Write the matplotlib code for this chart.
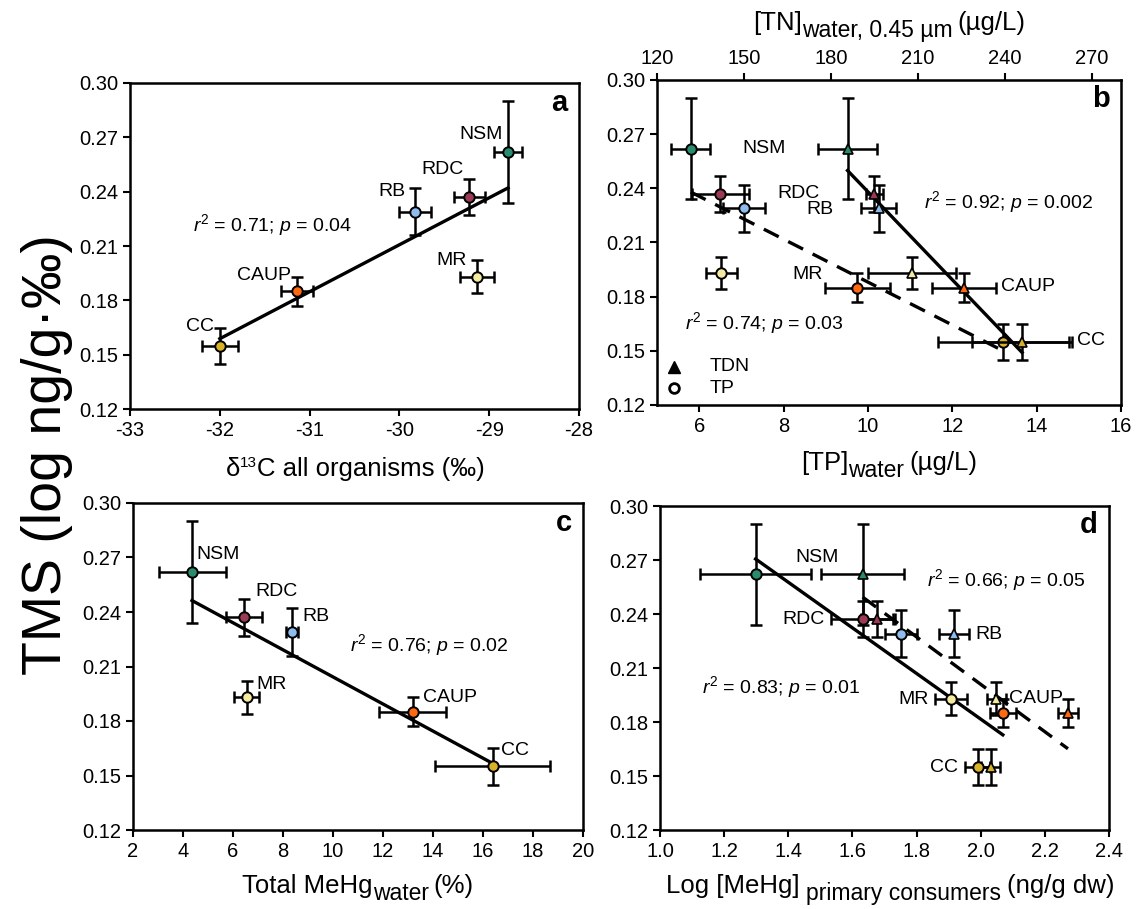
import matplotlib
matplotlib.use("Agg")
import matplotlib.pyplot as plt
from matplotlib.transforms import IdentityTransform
import numpy as np

plt.rcParams['font.family'] = ['Liberation Sans', 'DejaVu Sans']
plt.rcParams['mathtext.fontset'] = 'custom'
plt.rcParams['mathtext.rm'] = 'Liberation Sans'
plt.rcParams['mathtext.it'] = 'Liberation Sans:italic'
plt.rcParams['mathtext.bf'] = 'Liberation Sans:bold'
plt.rcParams['axes.unicode_minus'] = False

# sites, in the same order everywhere
sites = ['NSM', 'RDC', 'RB', 'MR', 'CAUP', 'CC']
colors = ['#2a8c6e', '#9b3a55', '#8fbcef', '#f5eba0', '#ff6a10', '#d9b02a']

# TMS (y) shared by all panels
tms = [0.262, 0.237, 0.229, 0.193, 0.185, 0.155]
tms_err = [0.028, 0.010, 0.013, 0.009, 0.008, 0.010]

# panel a: d13C
d13c = [-28.79, -29.22, -29.83, -29.14, -31.14, -32.0]
d13c_err = [0.16, 0.17, 0.18, 0.19, 0.18, 0.20]

# panel b: TP (bottom axis) and TDN (top axis)
tp = [5.80, 6.50, 7.06, 6.52, 9.75, 13.21]
tp_err = [0.46, 0.68, 0.49, 0.37, 0.77, 1.56]
tdn = [185.7, 194.9, 196.4, 207.8, 225.8, 245.9]
tdn_err = [10.3, 3.0, 5.9, 15.2, 11.0, 17.2]

# panel c: % MeHg in water
mehg_pct = [4.36, 6.43, 8.35, 6.55, 13.18, 16.38]
mehg_pct_err = [1.34, 0.72, 0.25, 0.50, 1.34, 2.30]

# panel d: log MeHg primary consumers (circles and triangles)
logc = [1.298, 1.632, 1.751, 1.908, 2.069, 1.990]
logc_err = [0.172, 0.10, 0.05, 0.05, 0.04, 0.04]
logt = [1.632, 1.678, 1.917, 2.049, 2.272, 2.031]
logt_err = [0.13, 0.05, 0.048, 0.03, 0.03, 0.03]

yticks = [0.12, 0.15, 0.18, 0.21, 0.24, 0.27, 0.30]

TICK = 14.5
LAB = 14

fig = plt.figure(figsize=(11.36, 9.09), dpi=100)
W, H = 1136, 909


def box(l, r, t, b):
    return [l / W, 1 - b / H, (r - l) / W, (b - t) / H]


ax_a = fig.add_axes(box(130, 579, 83, 409))
ax_b = fig.add_axes(box(657, 1121, 80, 405))
ax_c = fig.add_axes(box(133, 583, 503, 830))
ax_d = fig.add_axes(box(660, 1109, 506, 830))

ebkw = dict(fmt='none', ecolor='black', elinewidth=1.8, capsize=4, capthick=1.8, zorder=3)


def style(ax):
    ax.set_ylim(0.12, 0.30)
    ax.set_yticks(yticks)
    ax.set_yticklabels(['%.2f' % v for v in yticks])
    ax.tick_params(direction='out', length=5, width=1.5, labelsize=TICK)
    for s in ax.spines.values():
        s.set_linewidth(1.8)


def points(ax, x, xe, marker, ms):
    ax.errorbar(x, tms, xerr=xe, yerr=tms_err, **ebkw)
    for xi, yi, c in zip(x, tms, colors):
        ax.plot(xi, yi, marker=marker, ms=ms, mfc=c, mec='black', mew=1.4, zorder=4)


def fitline(ax, x, ls='-'):
    k, b0 = np.polyfit(x, tms, 1)
    xs = np.array([min(x), max(x)])
    if ls == '--':
        ax.plot(xs, k * xs + b0, color='black', lw=2.4, ls='--', dashes=(5, 3.2), zorder=2)
    else:
        ax.plot(xs, k * xs + b0, color='black', lw=2.4, zorder=2)


def labels(ax, pos, ha):
    for s, (x, y), h in zip(sites, pos, ha):
        ax.text(x, y, s, fontsize=LAB, ha=h, va='center')


def letter(ax, s):
    ax.text(0.975, 0.94, s, transform=ax.transAxes, fontsize=21, fontweight='bold',
            ha='right', va='center')


def rich_label(cx, base, parts):
    # parts: (text, size, raise_px, gap_px); base is baseline in px from the top
    r = fig.canvas.get_renderer()
    objs, widths = [], []
    for s, size, dy, gap in parts:
        t = fig.text(0, 0, s, fontsize=size, ha='left', va='baseline',
                     transform=IdentityTransform())
        objs.append(t)
        widths.append(t.get_window_extent(r).width + gap)
    x = cx - sum(widths) / 2
    for t, w, (s, size, dy, gap) in zip(objs, widths, parts):
        t.set_position((x, H - base + dy))
        x += w


# ---- a
style(ax_a)
ax_a.set_xlim(-33, -28)
ax_a.set_xticks(range(-33, -27))
fitline(ax_a, d13c)
points(ax_a, d13c, d13c_err, 'o', 7.5)
labels(ax_a, [(-28.85, 0.2714), (-29.29, 0.252), (-29.93, 0.240), (-29.25, 0.2022),
              (-31.21, 0.1938), (-32.07, 0.1658)], ['right'] * 6)
ax_a.text(-32.3, 0.2215, '$r^2$ = 0.71; $p$ = 0.04', fontsize=LAB, va='center')
letter(ax_a, 'a')

# ---- b
style(ax_b)
ax_b.set_xlim(5, 16)
ax_b.set_xticks([6, 8, 10, 12, 14, 16])
ax_t = ax_b.twiny()
ax_t.set_xlim(120, 280)
ax_t.set_xticks([120, 150, 180, 210, 240, 270])
ax_t.tick_params(direction='out', length=5, width=1.5, labelsize=TICK)
ax_t.set_ylim(0.12, 0.30)
fitline(ax_b, tp, '--')
fitline(ax_t, tdn)
points(ax_b, tp, tp_err, 'o', 7.5)
ax_t.errorbar(tdn, tms, xerr=tdn_err, yerr=tms_err, **ebkw)
for xi, yi, c in zip(tdn, tms, colors):
    ax_t.plot(xi, yi, marker='^', ms=7.5, mfc=c, mec='black', mew=1.2, zorder=4)
labels(ax_b, [(7.53, 0.262), (8.35, 0.237), (8.87, 0.2285), (8.56, 0.1925),
              (13.8, 0.1855), (15.3, 0.1556)], ['center'] * 6)
ax_b.text(11.34, 0.2326, '$r^2$ = 0.92; $p$ = 0.002', fontsize=LAB, va='center')
ax_b.text(5.66, 0.1656, '$r^2$ = 0.74; $p$ = 0.03', fontsize=LAB, va='center')
ax_b.plot(5.4, 0.1412, marker='^', ms=8, color='black', ls='none')
ax_b.plot(5.4, 0.1292, marker='o', ms=7, mfc='white', mec='black', mew=2, ls='none')
ax_b.text(6.24, 0.1412, 'TDN', fontsize=LAB, va='center')
ax_b.text(6.24, 0.1292, 'TP', fontsize=LAB, va='center')
letter(ax_b, 'b')

# ---- c
style(ax_c)
ax_c.set_xlim(2, 20)
ax_c.set_xticks(range(2, 21, 2))
fitline(ax_c, mehg_pct)
points(ax_c, mehg_pct, mehg_pct_err, 'o', 7.5)
labels(ax_c, [(4.53, 0.2718), (6.89, 0.2514), (8.79, 0.2376), (6.93, 0.2003),
              (13.58, 0.1927), (16.71, 0.1638)], ['left'] * 6)
ax_c.text(10.66, 0.2219, '$r^2$ = 0.76; $p$ = 0.02', fontsize=LAB, va='center')
letter(ax_c, 'c')

# ---- d
style(ax_d)
ax_d.set_xlim(1.0, 2.4)
dt = np.arange(1.0, 2.41, 0.2)
ax_d.set_xticks(dt)
ax_d.set_xticklabels(['%.1f' % v for v in dt])
fitline(ax_d, logc)
fitline(ax_d, logt, '--')
ax_d.errorbar(logt, tms, xerr=logt_err, yerr=tms_err, **ebkw)
for xi, yi, c in zip(logt, tms, colors):
    ax_d.plot(xi, yi, marker='^', ms=7.5, mfc=c, mec='black', mew=1.2, zorder=4)
points(ax_d, logc, logc_err, 'o', 7.5)
labels(ax_d, [(1.49, 0.2714), (1.512, 0.2367), (1.982, 0.2284), (1.838, 0.1924),
              (2.087, 0.1933), (1.93, 0.1545)],
       ['center', 'right', 'left', 'right', 'left', 'right'])
ax_d.text(1.832, 0.2588, '$r^2$ = 0.66; $p$ = 0.05', fontsize=LAB, va='center')
ax_d.text(1.132, 0.1994, '$r^2$ = 0.83; $p$ = 0.01', fontsize=LAB, va='center')
letter(ax_d, 'd')

# axis titles with near full-size sub/superscripts
rich_label(355, 476, [('δ', 18.5, 0, 0), ('13', 11, 9, 0), ('C all organisms (‰)', 18.5, 0, 0)])
rich_label(889, 470, [('[TP]', 18.5, 0, 0), ('water', 16.5, -7, 5), ('(µg/L)', 18.5, 0, 0)])
rich_label(889, 30, [('[TN]', 18.5, 0, 0), ('water, 0.45 µm', 16.5, -7, 5), ('(µg/L)', 18.5, 0, 0)])
rich_label(358, 893, [('Total MeHg', 18.5, 0, 0), ('water', 16.5, -7, 5), ('(%)', 18.5, 0, 0)])
rich_label(890, 893, [('Log [MeHg]', 18.5, 0, 6), ('primary consumers', 16.5, -7, 6),
                      ('(ng/g dw)', 18.5, 0, 0)])

fig.text(47 / W, 0.5, 'TMS (log ng/g·‰)', rotation=90, fontsize=40, ha='center', va='center')

fig.savefig('out.png', dpi=100)
